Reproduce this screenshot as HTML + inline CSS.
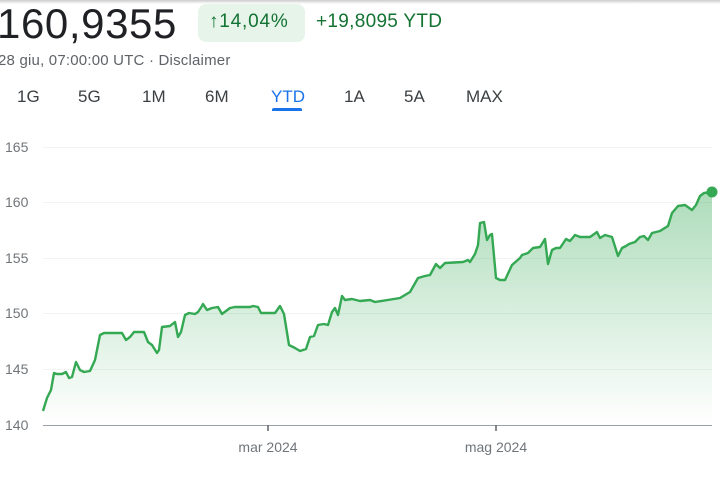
<!DOCTYPE html>
<html><head><meta charset="utf-8"><style>
body{margin:0;width:720px;height:480px;overflow:hidden;background:#fff;font-family:"Liberation Sans",Arial,sans-serif;position:relative}
.t{position:absolute;white-space:nowrap}
</style></head><body>
<div style="position:absolute;left:0;top:0;width:720px;height:4px;background:linear-gradient(#ccc,#fff)"></div>
<div class="t" style="left:-3px;top:0px;font-size:42px;color:#202124;letter-spacing:0.6px">160,9355</div>
<div style="position:absolute;left:198px;top:4px;width:107px;height:38px;background:#e6f4ea;border-radius:8px"></div>
<div class="t" style="left:209px;top:11px;font-size:19px;color:#137333;letter-spacing:0.8px">↑14,04%</div>
<div class="t" style="left:316px;top:11px;font-size:19px;color:#137333;letter-spacing:0.3px">+19,8095 YTD</div>
<div class="t" style="left:-2px;top:52px;font-size:15px;color:#5f6368;letter-spacing:0.2px">28 giu, 07:00:00 UTC · Disclaimer</div>
<div class="t" style="left:17px;top:87px;font-size:17px;color:#3c4043">1G</div>
<div class="t" style="left:78px;top:87px;font-size:17px;color:#3c4043">5G</div>
<div class="t" style="left:142px;top:87px;font-size:17px;color:#3c4043">1M</div>
<div class="t" style="left:205px;top:87px;font-size:17px;color:#3c4043">6M</div>
<div class="t" style="left:271px;top:87px;font-size:17px;color:#1a73e8">YTD</div>
<div style="position:absolute;left:272px;top:108px;width:30px;height:3px;background:#1a73e8;border-radius:2px 2px 0 0"></div>
<div class="t" style="left:344px;top:87px;font-size:17px;color:#3c4043">1A</div>
<div class="t" style="left:404px;top:87px;font-size:17px;color:#3c4043">5A</div>
<div class="t" style="left:466px;top:87px;font-size:17px;color:#3c4043">MAX</div>
<svg width="720" height="480" style="position:absolute;left:0;top:0">
<defs><linearGradient id="g" x1="0" y1="0" x2="0" y2="1"><stop offset="0" stop-color="#34a853" stop-opacity="0.4"/><stop offset="1" stop-color="#34a853" stop-opacity="0"/></linearGradient></defs>
<g stroke="#f1f3f4" stroke-width="1">
<line x1="43" x2="712" y1="147.5" y2="147.5"/><line x1="43" x2="712" y1="202.5" y2="202.5"/><line x1="43" x2="712" y1="258.5" y2="258.5"/><line x1="43" x2="712" y1="313.5" y2="313.5"/><line x1="43" x2="712" y1="369.5" y2="369.5"/>
</g>
<g font-size="14" fill="#70757a" font-family="Liberation Sans,Arial,sans-serif">
<text x="5" y="152">165</text><text x="5" y="207">160</text><text x="5" y="263">155</text><text x="5" y="318">150</text><text x="5" y="374">145</text><text x="5" y="430">140</text>
<text x="268" y="452" text-anchor="middle">mar 2024</text><text x="496" y="452" text-anchor="middle">mag 2024</text>
</g>
<path d="M43,411 L47,398 51,390 54,373 57,374 62,374 66,372 69,378 72,377 76,362 80,370 84,372 90,371 95,360 100,335 104,333 122,333 126,340 130,337 134,332 144,332 148,342 152,345 157,353 159,350 162,327 170,326 175,322 178,337 181,332 185,315 189,313 195,314 198,312 202,306 203,304 207,310 212,308 218,307 222,314 230,308 235,307 250,307 253,306 258,307 261,313 275,313 280,306 284,314 289,345 295,348 300,351 306,349 310,337 314,336 318,325 324,324 328,325 332,312 335,308 338,315 342,296 345,300 352,299 360,301 370,300 375,302 400,298 410,292 418,278 425,276 430,275 436,264 440,268 445,263 463,262 468,260 470,262 475,254 478,245 480,223 484,222 487,240 490,235 492,234 496,278 500,280 505,280 512,265 520,258 522,255 528,253 533,248 540,247 545,239 548,264 552,250 556,248 560,248 566,239 570,241 575,235 580,237 590,237 597,232 600,238 605,235 612,237 618,256 622,248 626,246 629,244 635,242 640,237 644,236 648,240 652,233 660,231 668,226 672,213 678,206 685,205 692,210 696,205 700,196 704,193 712,192 L712,425 L43,425 Z" fill="url(#g)"/>
<path d="M43,411 L47,398 51,390 54,373 57,374 62,374 66,372 69,378 72,377 76,362 80,370 84,372 90,371 95,360 100,335 104,333 122,333 126,340 130,337 134,332 144,332 148,342 152,345 157,353 159,350 162,327 170,326 175,322 178,337 181,332 185,315 189,313 195,314 198,312 202,306 203,304 207,310 212,308 218,307 222,314 230,308 235,307 250,307 253,306 258,307 261,313 275,313 280,306 284,314 289,345 295,348 300,351 306,349 310,337 314,336 318,325 324,324 328,325 332,312 335,308 338,315 342,296 345,300 352,299 360,301 370,300 375,302 400,298 410,292 418,278 425,276 430,275 436,264 440,268 445,263 463,262 468,260 470,262 475,254 478,245 480,223 484,222 487,240 490,235 492,234 496,278 500,280 505,280 512,265 520,258 522,255 528,253 533,248 540,247 545,239 548,264 552,250 556,248 560,248 566,239 570,241 575,235 580,237 590,237 597,232 600,238 605,235 612,237 618,256 622,248 626,246 629,244 635,242 640,237 644,236 648,240 652,233 660,231 668,226 672,213 678,206 685,205 692,210 696,205 700,196 704,193 712,192" fill="none" stroke="#34a853" stroke-width="2.4" stroke-linejoin="round"/>
<line x1="43" x2="712" y1="425.5" y2="425.5" stroke="#9aa0a6" stroke-width="1"/>
<line x1="268" x2="268" y1="425" y2="431" stroke="#5f6368" stroke-width="1.5"/>
<line x1="496" x2="496" y1="425" y2="431" stroke="#5f6368" stroke-width="1.5"/>
<circle cx="712" cy="192" r="5.5" fill="#34a853"/>
</svg>
</body></html>
